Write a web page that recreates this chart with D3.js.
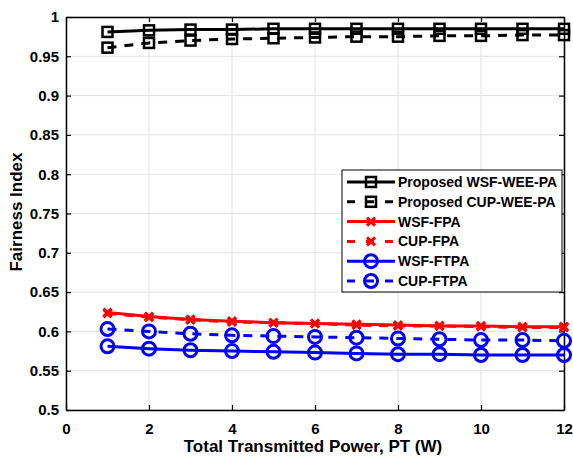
<!DOCTYPE html>
<html>
<head>
<meta charset="utf-8">
<script src="https://cdn.jsdelivr.net/npm/d3@7"></script>
<style>
  body { margin: 0; background: white; }
  text { font-family: "Liberation Sans", Arial, sans-serif; font-weight: bold; }
</style>
</head>
<body>
<div id="chart"></div>
<script>
const power = [1, 2, 3, 4, 5, 6, 7, 8, 9, 10, 11, 12];
const wsfWee = [0.981, 0.983, 0.984, 0.984, 0.985, 0.985, 0.985, 0.985, 0.985, 0.985, 0.985, 0.985];
const cupWee = [0.961, 0.967, 0.970, 0.972, 0.973, 0.974, 0.975, 0.975, 0.976, 0.976, 0.977, 0.977];
const wsfFpa = [0.624, 0.619, 0.615, 0.613, 0.611, 0.610, 0.609, 0.608, 0.607, 0.607, 0.606, 0.606];
const cupFpa = [0.623, 0.618, 0.615, 0.612, 0.611, 0.610, 0.608, 0.607, 0.607, 0.606, 0.605, 0.605];
const wsfFtpa = [0.581, 0.578, 0.576, 0.575, 0.574, 0.573, 0.572, 0.571, 0.571, 0.570, 0.570, 0.570];
const cupFtpa = [0.603, 0.600, 0.597, 0.595, 0.594, 0.593, 0.592, 0.591, 0.590, 0.589, 0.589, 0.588];
const xTicks = [0, 2, 4, 6, 8, 10, 12];
const yTicks = [0.5, 0.55, 0.6, 0.65, 0.7, 0.75, 0.8, 0.85, 0.9, 0.95, 1];

const series = [
  {name: "Proposed WSF-WEE-PA", values: wsfWee, color: "black", dash: null, marker: "square"},
  {name: "Proposed CUP-WEE-PA", values: cupWee, color: "black", dash: "9,8", marker: "square"},
  {name: "WSF-FPA", values: wsfFpa, color: "#ff0000", dash: null, marker: "x"},
  {name: "CUP-FPA", values: cupFpa, color: "#ff0000", dash: "9,8", marker: "x"},
  {name: "WSF-FTPA", values: wsfFtpa, color: "#0000ff", dash: null, marker: "circle"},
  {name: "CUP-FTPA", values: cupFtpa, color: "#0000ff", dash: "9,8", marker: "circle"},
];

const width = 573, height = 457;
const pLeft = 66, pRight = 564, pTop = 17, pBottom = 410;

const svg = d3.select("#chart").append("svg")
    .attr("width", width)
    .attr("height", height);

const x = d3.scaleLinear().domain([0, 12]).range([pLeft, pRight]);
const y = d3.scaleLinear().domain([0.5, 1]).range([pBottom, pTop]);

// grid
const grid = svg.append("g");
for (const t of xTicks) {
  grid.append("line")
      .attr("x1", x(t)).attr("x2", x(t))
      .attr("y1", pTop).attr("y2", pBottom)
      .style("stroke", "#e3e3e3").style("stroke-width", 1);
}
for (const t of yTicks) {
  grid.append("line")
      .attr("x1", pLeft).attr("x2", pRight)
      .attr("y1", y(t)).attr("y2", y(t))
      .style("stroke", "#e3e3e3").style("stroke-width", 1);
}

// axes
const fmtY = d => String(+d.toFixed(2));
const xAxis = svg.append("g").attr("transform", `translate(0,${pBottom})`)
    .call(d3.axisBottom(x).tickValues(xTicks).tickSizeInner(-5).tickSizeOuter(0).tickPadding(13));
const xAxisTop = svg.append("g").attr("transform", `translate(0,${pTop})`)
    .call(d3.axisTop(x).tickValues(xTicks).tickSizeInner(-5).tickSizeOuter(0).tickFormat(""));
const yAxis = svg.append("g").attr("transform", `translate(${pLeft},0)`)
    .call(d3.axisLeft(y).tickValues(yTicks).tickSizeInner(-5).tickSizeOuter(0).tickPadding(7).tickFormat(fmtY));
const yAxisRight = svg.append("g").attr("transform", `translate(${pRight},0)`)
    .call(d3.axisRight(y).tickValues(yTicks).tickSizeInner(-5).tickSizeOuter(0).tickFormat(""));

for (const a of [xAxis, xAxisTop, yAxis, yAxisRight]) {
  a.select(".domain").style("stroke", "black").style("stroke-width", 1.5);
  a.selectAll(".tick line").style("stroke", "black").style("stroke-width", 1.2);
  a.selectAll("text").style("font-size", "15px").style("fill", "black")
      .style("font-family", "'Liberation Sans', Arial, sans-serif").style("font-weight", "bold");
}

svg.append("text")
    .attr("x", 313).attr("y", 452)
    .attr("text-anchor", "middle")
    .style("font-size", "17px")
    .text("Total Transmitted Power, PT (W)");

svg.append("text")
    .attr("transform", `translate(22,212) rotate(-90)`)
    .attr("text-anchor", "middle")
    .style("font-size", "17px")
    .text("Fairness Index");

function drawMarker(g, type, cx, cy, color) {
  if (type === "square") {
    g.append("rect")
        .attr("x", cx - 5).attr("y", cy - 5)
        .attr("width", 10).attr("height", 10)
        .style("fill", "none").style("stroke", color).style("stroke-width", 2.5);
  } else if (type === "circle") {
    g.append("circle")
        .attr("cx", cx).attr("cy", cy).attr("r", 6.5)
        .style("fill", "none").style("stroke", color).style("stroke-width", 3);
  } else {
    const s = 4;
    g.append("path")
        .attr("d", `M${cx - s},${cy - s}L${cx + s},${cy + s}M${cx - s},${cy + s}L${cx + s},${cy - s}`)
        .style("fill", "none").style("stroke", color).style("stroke-width", 3);
  }
}

const line = d3.line().x((d, i) => x(power[i])).y(d => y(d));
const plot = svg.append("g");
for (const s of series) {
  plot.append("path")
      .datum(s.values)
      .attr("d", line)
      .style("fill", "none")
      .style("stroke", s.color)
      .style("stroke-width", 3)
      .style("stroke-dasharray", s.dash);
  s.values.forEach((v, i) => drawMarker(plot, s.marker, x(power[i]), y(v), s.color));
}

// legend
const lx = 342, ly = 170, lw = 220, lh = 122;
const legend = svg.append("g");
legend.append("rect")
    .attr("x", lx).attr("y", ly).attr("width", lw).attr("height", lh)
    .style("fill", "white").style("stroke", "black").style("stroke-width", 1);
series.forEach((s, i) => {
  const yy = ly + 12 + i * 19.8;
  legend.append("line")
      .attr("x1", lx + 5).attr("x2", lx + 53)
      .attr("y1", yy).attr("y2", yy)
      .style("stroke", s.color).style("stroke-width", 3)
      .style("stroke-dasharray", s.dash ? "8,11" : null);
  drawMarker(legend, s.marker, lx + 29, yy, s.color);
  legend.append("text")
      .attr("x", lx + 56).attr("y", yy + 5)
      .style("font-size", "14px")
      .text(s.name);
});
</script>
</body>
</html>
